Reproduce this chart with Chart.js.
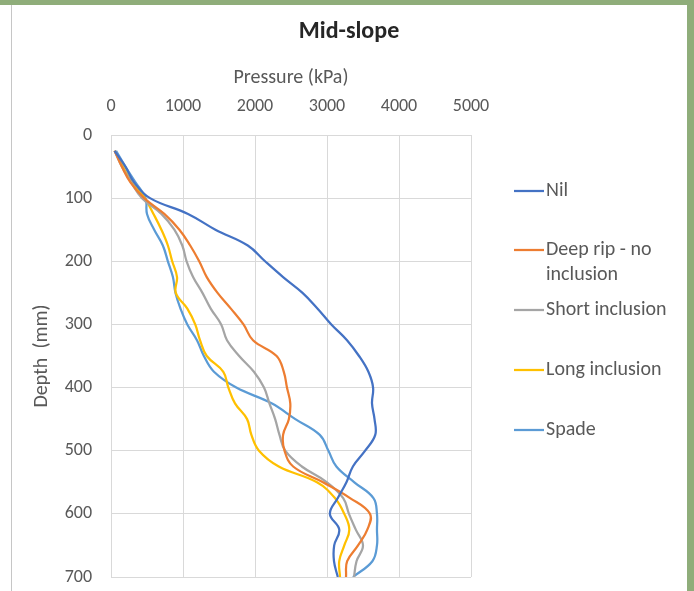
<!DOCTYPE html>
<html>
<head>
<meta charset="utf-8">
<title>Mid-slope</title>
<script src="https://cdn.jsdelivr.net/npm/chart.js@4.4.1/dist/chart.umd.min.js"></script>
<style>
  html, body { margin: 0; padding: 0; background: #8fad7a; overflow: hidden; }
  #frame { position: absolute; left: 0; top: 5px; width: 687px; height: 586px; background: #fff; }
  #frame::before { content: ""; position: absolute; left: 11px; top: 0; bottom: 0; width: 1px; background: #c6c6c6; }
  #wrap { position: absolute; left: 0; top: 0; width: 694px; height: 591px; }
</style>
</head>
<body>
<div id="frame"></div>
<div id="wrap"><canvas id="chart" width="694" height="591"></canvas></div>
<script>
// ── Data (depth in mm, pressure in kPa) ───────────────────────────────────────
const DEPTHS = [25, 50, 75, 100, 125, 150, 175, 200, 225, 250, 275, 300, 325, 350,
                375, 400, 425, 450, 475, 500, 525, 550, 575, 600, 625, 650, 675, 700];

const NIL        = [50, 200, 320, 542, 1070, 1450, 1900, 2140, 2390, 2660, 2870, 3060, 3278, 3445,
                    3575, 3640, 3625, 3660, 3670, 3530, 3360, 3270, 3150, 3040, 3170, 3100, 3097, 3150];
const DEEP_RIP   = [50, 150, 270, 460, 740, 950, 1100, 1225, 1330, 1480, 1665, 1840, 1972, 2300,
                    2400, 2444, 2490, 2470, 2390, 2410, 2530, 2944, 3320, 3597, 3560, 3431, 3280, 3264];
const SHORT_INC  = [50, 150, 280, 430, 700, 880, 990, 1050, 1140, 1270, 1385, 1530, 1611, 1780,
                    1985, 2125, 2200, 2280, 2340, 2420, 2650, 3000, 3225, 3305, 3400, 3500, 3410, 3375];
const LONG_INC   = [50, 165, 290, 470, 590, 700, 790, 850, 917, 900, 1060, 1170, 1236, 1330,
                    1560, 1630, 1722, 1890, 1950, 2055, 2330, 2861, 3110, 3240, 3310, 3240, 3170, 3181];
const SPADE      = [70, 200, 340, 480, 500, 600, 720, 790, 860, 895, 965, 1060, 1194, 1290,
                    1430, 1740, 2230, 2560, 2900, 3020, 3130, 3380, 3645, 3694, 3694, 3694, 3630, 3361];

const LABELS = ["Nil", "Deep rip - no inclusion", "Short inclusion", "Long inclusion", "Spade"];
const COLORS = ["#4472C4", "#ED7D31", "#A5A5A5", "#FFC000", "#5B9BD5"];
const SERIES = [NIL, DEEP_RIP, SHORT_INC, LONG_INC, SPADE];

const X_TICKS = [0, 1000, 2000, 3000, 4000, 5000];
const Y_TICKS = [0, 100, 200, 300, 400, 500, 600, 700];

// ── Look ──────────────────────────────────────────────────────────────────────
const FONT = "Carlito, Lato, sans-serif";
const TEXT = "#595959";
const GRID = "#d9d9d9";
// legend rows as Excel wrapped them
const LEGEND_ROWS = [["Nil"], ["Deep rip - no", "inclusion"], ["Short inclusion"], ["Long inclusion"], ["Spade"]];
const LEGEND_Y    = [191, 250, 310, 370, 430];

// ── Title + legend drawn onto the canvas ──────────────────────────────────────
const decorations = {
  id: "decorations",
  afterDraw(chart) {
    const ctx = chart.ctx;
    ctx.save();
    ctx.fillStyle = "#262626";
    ctx.font = `bold 24px ${FONT}`;
    ctx.textAlign = "center";
    ctx.textBaseline = "middle";
    ctx.fillText("Mid-slope", 349, 32);

    ctx.font = `20px ${FONT}`;
    ctx.textAlign = "left";
    LEGEND_ROWS.forEach((rows, i) => {
      const y = LEGEND_Y[i];
      ctx.strokeStyle = COLORS[i];
      ctx.lineWidth = 2.25;
      ctx.beginPath();
      ctx.moveTo(514, y);
      ctx.lineTo(544, y);
      ctx.stroke();
      ctx.fillStyle = TEXT;
      rows.forEach((r, j) => ctx.fillText(r, 546, y + j * 25));
    });
    ctx.restore();
  }
};

// ── Chart ─────────────────────────────────────────────────────────────────────
new Chart(document.getElementById("chart"), {
  type: "scatter",
  data: {
    datasets: SERIES.map((vals, i) => ({
      label: LABELS[i],
      data: DEPTHS.map((d, k) => ({ x: vals[k], y: d })),
      borderColor: COLORS[i],
      backgroundColor: COLORS[i],
      showLine: true,
      pointRadius: 0,
      borderWidth: 2.25,
      tension: 0.4,
      fill: false,
    }))
  },
  options: {
    responsive: false,
    animation: false,
    layout: { padding: { left: 0, top: 42, right: 223, bottom: 14 } },
    plugins: { legend: { display: false }, title: { display: false }, tooltip: { enabled: false } },
    scales: {
      x: {
        type: "linear",
        position: "top",
        min: 0, max: 5000,
        afterBuildTicks: s => { s.ticks = X_TICKS.map(v => ({ value: v })); },
        afterFit: s => { s.height = 93; },
        ticks: { padding: 18, color: TEXT, font: { family: FONT, size: 18 }, callback: v => String(v) },
        grid: { color: GRID, drawTicks: false },
        border: { display: false },
        title: { display: true, text: "Pressure (kPa)", color: TEXT,
                 font: { family: FONT, size: 20 }, padding: { top: 24, bottom: 0 } },
      },
      y: {
        type: "linear",
        reverse: true,
        min: 0, max: 700,
        afterBuildTicks: s => { s.ticks = Y_TICKS.map(v => ({ value: v })); },
        afterFit: s => { s.width = 111; },
        // tick marks are invisible, they only push the labels away from the plot
        ticks: { padding: 3, color: TEXT, font: { family: FONT, size: 18 }, callback: v => String(v) },
        grid: { color: GRID, drawTicks: true, tickLength: 16, tickColor: "rgba(0,0,0,0)" },
        border: { display: false },
        title: { display: true, text: "Depth  (mm)", color: TEXT,
                 font: { family: FONT, size: 20 }, padding: { top: 30, bottom: 0 } },
      }
    }
  },
  plugins: [decorations]
});
</script>
</body>
</html>
